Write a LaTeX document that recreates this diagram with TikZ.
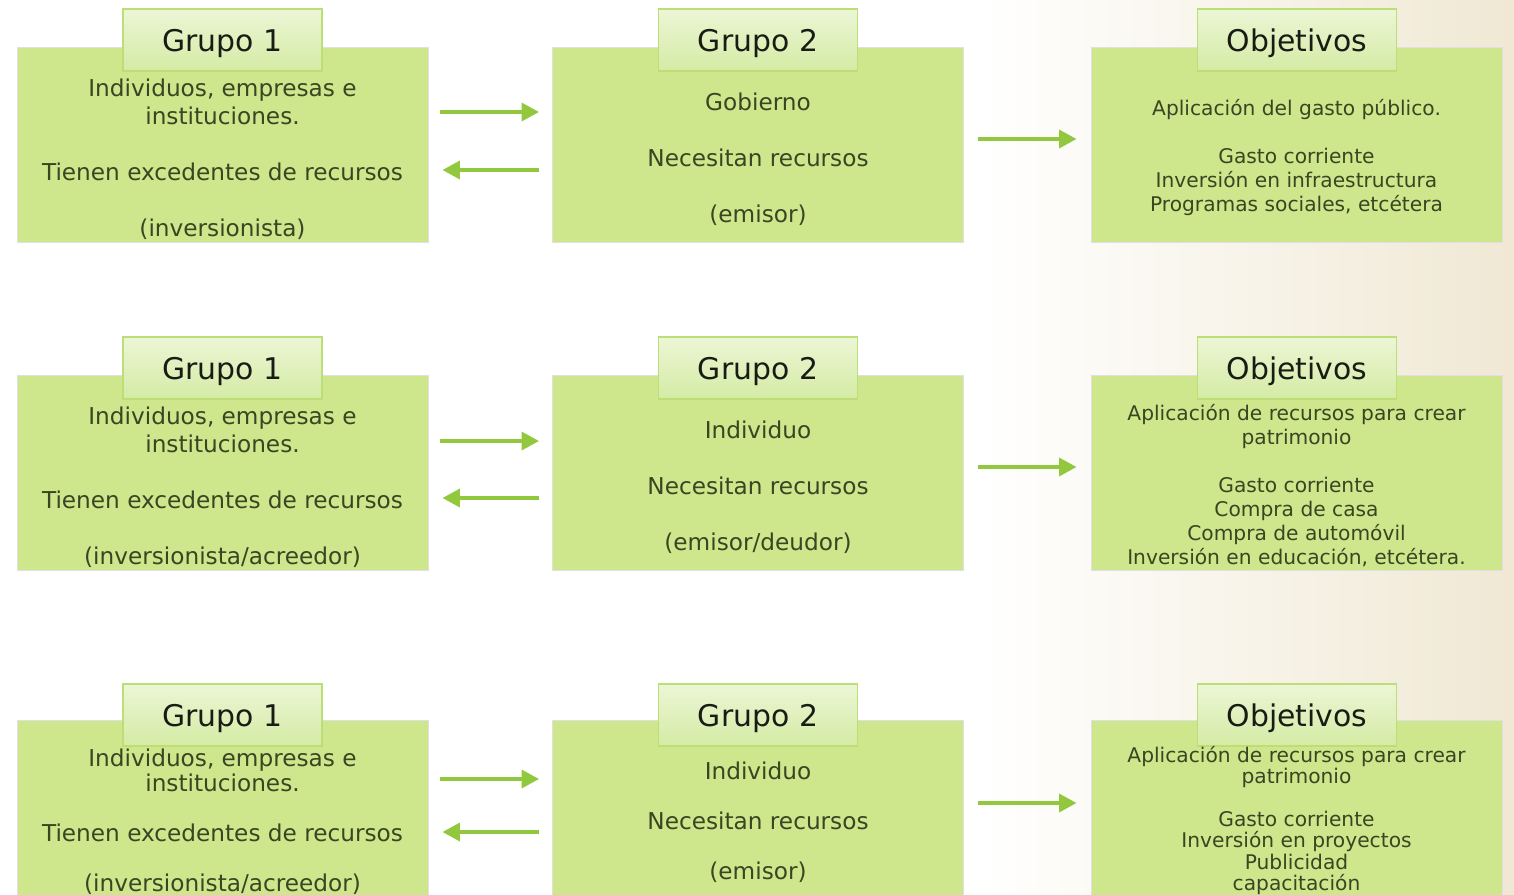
\documentclass[tikz,border=0pt]{standalone}
\usepackage{fontspec}
\setmainfont{DejaVu Sans}
\usetikzlibrary{positioning, calc, arrows.meta}
\definecolor{verdecaja}{RGB}{206,230,140}
\definecolor{verdeclaro}{RGB}{236,246,214}
\definecolor{verdemedio}{RGB}{212,235,164}
\definecolor{verdeborde}{RGB}{188,222,118}
\definecolor{verdeflecha}{RGB}{146,200,62}
\definecolor{textocaja}{RGB}{58,70,34}
\definecolor{textoencab}{RGB}{24,28,20}
\definecolor{fondo}{RGB}{240,232,212}

\begin{document}
\begin{tikzpicture}[
    x=0.02cm, y=-0.02cm,
    caja/.style={rectangle, draw=black!12, fill=verdecaja,
      minimum width=8.22cm, minimum height=3.9cm, inner sep=0pt},
    pestana/.style={rectangle, draw=verdeborde, line width=0.8pt,
      top color=verdeclaro, bottom color=verdemedio,
      minimum width=3.98cm, minimum height=1.24cm,
      text height=17pt, text depth=4pt,
      text=textoencab, font=\fontsize{17}{20}\selectfont},
    texto/.style={align=center, text=textocaja, inner sep=0pt,
      font=\fontsize{13.2}{15.9}\selectfont},
    textoobj/.style={align=center, text=textocaja, inner sep=0pt,
      font=\fontsize{11.5}{13.7}\selectfont},
    flecha/.style={draw=verdeflecha, line width=2.8pt,
      -{Triangle[length=10pt,width=10pt]}}
]
\useasboundingbox (0,0) rectangle (1514,894);
\clip (0,0) rectangle (1514,894);

% fondo
\fill[white] (0,0) rectangle (1514,894);
\shade[left color=white, right color=fondo] (980,0) rectangle (1514,894);

% fila 1
\node[caja] (grupo1a) at (222.5,144.5) {};
\node[caja] (grupo2a) at (758,144.5) {};
\node[caja] (objetivoa) at (1296.5,144.5) {};
\node[pestana] (tab1a) at (222.5,40) {Grupo 1};
\node[pestana] (tab2a) at (758,40) {Grupo 2};
\node[pestana] (tab3a) at (1297,40) {Objetivos};
\node[texto] (txt1a) at (222.5,159.5) {Individuos, empresas e\\instituciones.\\[15.9pt]Tienen excedentes de recursos\\[15.9pt](inversionista)};
\node[texto] (txt2a) at (758,159.5) {Gobierno\\[15.9pt]Necesitan recursos\\[15.9pt](emisor)};
\node[textoobj] (txt3a) at (1296.5,157.5) {Aplicación del gasto público.\\[13.7pt]Gasto corriente\\Inversión en infraestructura\\Programas sociales, etcétera};

\draw[flecha] ($(grupo1a.east)+(12,-32.5)$) -- ($(grupo2a.west)+(-13,-32.5)$);
\draw[flecha] ($(grupo2a.west)+(-13,25.5)$) -- ($(grupo1a.east)+(14,25.5)$);
\draw[flecha] ($(grupo2a.east)+(14,-5.5)$) -- ($(objetivoa.west)+(-14,-5.5)$);

% fila 2
\node[caja] (grupo1b) at (222.5,472.5) {};
\node[caja] (grupo2b) at (758,472.5) {};
\node[caja] (objetivob) at (1296.5,472.5) {};
\node[pestana] (tab1b) at (222.5,368) {Grupo 1};
\node[pestana] (tab2b) at (758,368) {Grupo 2};
\node[pestana] (tab3b) at (1297,368) {Objetivos};
\node[texto] (txt1b) at (222.5,487.5) {Individuos, empresas e\\instituciones.\\[15.9pt]Tienen excedentes de recursos\\[15.9pt](inversionista/acreedor)};
\node[texto] (txt2b) at (758,487) {Individuo\\[15.9pt]Necesitan recursos\\[15.9pt](emisor/deudor)};
\node[textoobj] (txt3b) at (1296.5,485.5) {Aplicación de recursos para crear\\patrimonio\\[13.7pt]Gasto corriente\\Compra de casa\\Compra de automóvil\\Inversión en educación, etcétera.};

\draw[flecha] ($(grupo1b.east)+(12,-31.5)$) -- ($(grupo2b.west)+(-13,-31.5)$);
\draw[flecha] ($(grupo2b.west)+(-13,25.5)$) -- ($(grupo1b.east)+(14,25.5)$);
\draw[flecha] ($(grupo2b.east)+(14,-5.5)$) -- ($(objetivob.west)+(-14,-5.5)$);

% fila 3
\node[caja] (grupo1c) at (222.5,817.5) {};
\node[caja] (grupo2c) at (758,817.5) {};
\node[caja] (objetivoc) at (1296.5,817.5) {};
\node[pestana] (tab1c) at (222.5,715) {Grupo 1};
\node[pestana] (tab2c) at (758,715) {Grupo 2};
\node[pestana] (tab3c) at (1297,715) {Objetivos};
\node[texto, font=\fontsize{13.2}{14.2}\selectfont] (txt1c) at (222.5,821.5) {Individuos, empresas e\\instituciones.\\[14.2pt]Tienen excedentes de recursos\\[14.2pt](inversionista/acreedor)};
\node[texto, font=\fontsize{13.2}{14.2}\selectfont] (txt2c) at (758,822.5) {Individuo\\[14.2pt]Necesitan recursos\\[14.2pt](emisor)};
\node[textoobj, font=\fontsize{11.5}{12.2}\selectfont] (txt3c) at (1296.5,820.5) {Aplicación de recursos para crear\\patrimonio\\[12.2pt]Gasto corriente\\Inversión en proyectos\\Publicidad\\capacitación};

\draw[flecha] ($(grupo1c.east)+(12,-38.5)$) -- ($(grupo2c.west)+(-13,-38.5)$);
\draw[flecha] ($(grupo2c.west)+(-13,14.5)$) -- ($(grupo1c.east)+(14,14.5)$);
\draw[flecha] ($(grupo2c.east)+(14,-14.5)$) -- ($(objetivoc.west)+(-14,-14.5)$);

\end{tikzpicture}
\end{document}
